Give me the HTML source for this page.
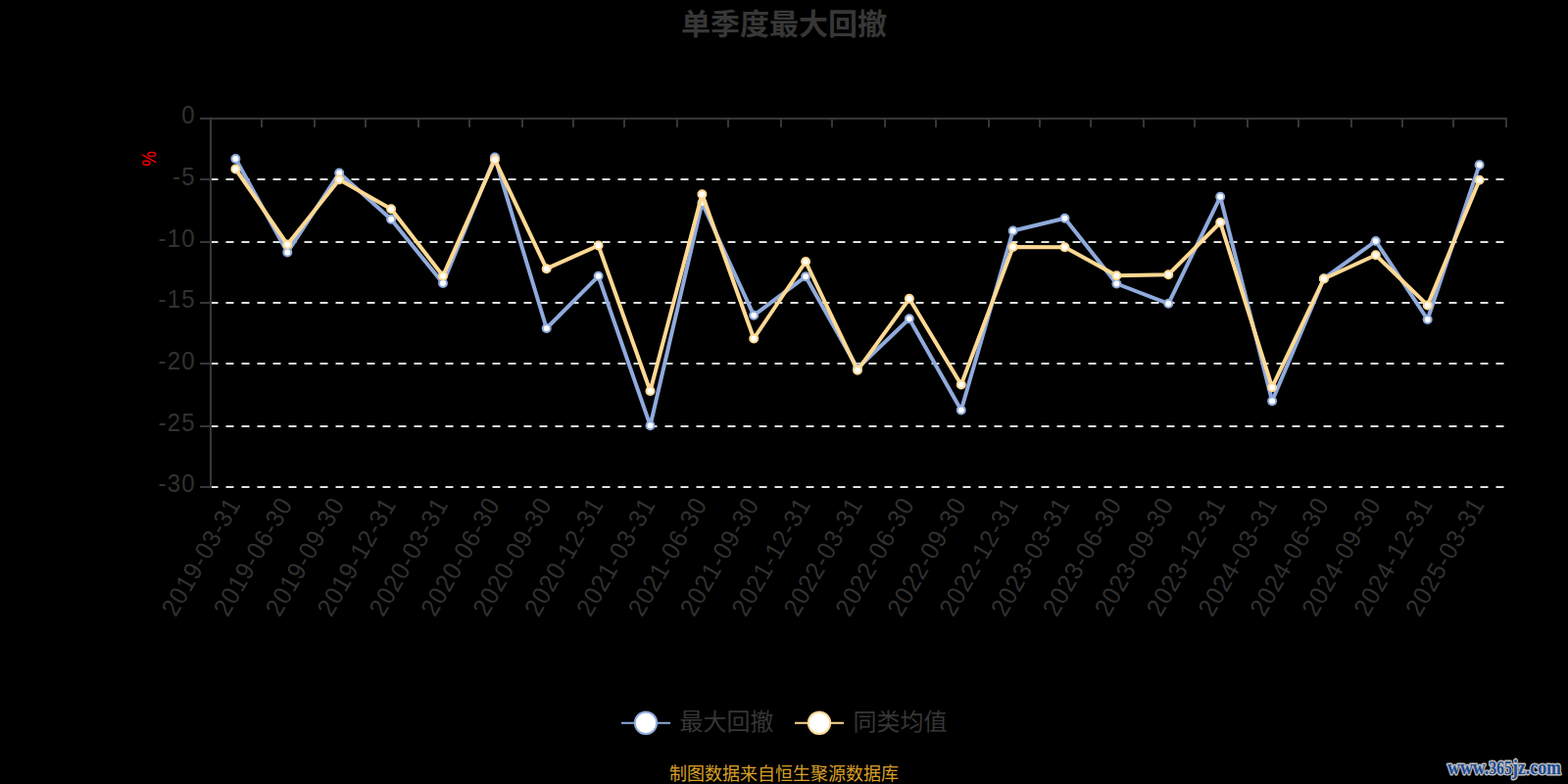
<!DOCTYPE html>
<html lang="zh-CN"><head><meta charset="utf-8"><title>单季度最大回撤</title>
<style>
html,body{margin:0;padding:0;background:#000;}
body{width:1600px;height:800px;overflow:hidden;font-family:"Liberation Sans",sans-serif;}
svg{display:block;}
text{font-family:"Liberation Sans","Noto Sans CJK SC",sans-serif;}
.yl{font-size:24px;fill:#313131;text-anchor:end;letter-spacing:1.2px;}
.xl{font-size:24px;fill:#313131;text-anchor:end;letter-spacing:1.18px;}
.wm{font-family:"Liberation Serif",serif;font-weight:bold;font-size:19px;}
</style></head><body>
<svg width="1600" height="800" viewBox="0 0 1600 800" role="img" aria-label="单季度最大回撤 折线图">
<rect width="1600" height="800" fill="#000"/>
<text x="800" y="34.65" font-size="30" font-weight="bold" fill="#373737" text-anchor="middle">单季度最大回撤</text>
<g stroke="#e0e0e0" stroke-width="2" stroke-dasharray="8 8" fill="none">
<path d="M214.5 183 H1536"/>
<path d="M214.5 247 H1536"/>
<path d="M214.5 309 H1536"/>
<path d="M214.5 371 H1536"/>
<path d="M214.5 435 H1536"/>
<path d="M214.5 497 H1536"/>
</g>
<g stroke="#363636" stroke-width="2" fill="none">
<path d="M215 119.5 V498"/>
<path d="M214 121 H1538"/>
<path d="M204 121 H215"/>
<path d="M204 183 H215"/>
<path d="M204 247 H215"/>
<path d="M204 309 H215"/>
<path d="M204 371 H215"/>
<path d="M204 435 H215"/>
<path d="M204 497 H215"/>
<path d="M267 121 V130"/>
<path d="M321 121 V130"/>
<path d="M373 121 V130"/>
<path d="M427 121 V130"/>
<path d="M479 121 V130"/>
<path d="M533 121 V130"/>
<path d="M585 121 V130"/>
<path d="M637 121 V130"/>
<path d="M691 121 V130"/>
<path d="M743 121 V130"/>
<path d="M797 121 V130"/>
<path d="M849 121 V130"/>
<path d="M903 121 V130"/>
<path d="M955 121 V130"/>
<path d="M1009 121 V130"/>
<path d="M1061 121 V130"/>
<path d="M1113 121 V130"/>
<path d="M1167 121 V130"/>
<path d="M1219 121 V130"/>
<path d="M1273 121 V130"/>
<path d="M1325 121 V130"/>
<path d="M1379 121 V130"/>
<path d="M1431 121 V130"/>
<path d="M1483 121 V130"/>
<path d="M1537 121 V130"/>
</g>
<text class="yl" transform="translate(199.8 126.2) scale(1 1.08)">0</text>
<text class="yl" transform="translate(199.8 188.9) scale(1 1.08)">-5</text>
<text class="yl" transform="translate(199.8 251.5) scale(1 1.08)">-10</text>
<text class="yl" transform="translate(199.8 314.2) scale(1 1.08)">-15</text>
<text class="yl" transform="translate(199.8 376.9) scale(1 1.08)">-20</text>
<text class="yl" transform="translate(199.8 439.5) scale(1 1.08)">-25</text>
<text class="yl" transform="translate(199.8 502.2) scale(1 1.08)">-30</text>
<text x="0" y="0" font-size="19.5" fill="#f00" text-anchor="middle" transform="translate(159.2 162) rotate(-90) scale(0.88 1)">%</text>
<text class="xl" transform="translate(246.6 514.0) rotate(-60) scale(1 1.08)">2019-03-31</text>
<text class="xl" transform="translate(299.5 514.0) rotate(-60) scale(1 1.08)">2019-06-30</text>
<text class="xl" transform="translate(352.4 514.0) rotate(-60) scale(1 1.08)">2019-09-30</text>
<text class="xl" transform="translate(405.3 514.0) rotate(-60) scale(1 1.08)">2019-12-31</text>
<text class="xl" transform="translate(458.2 514.0) rotate(-60) scale(1 1.08)">2020-03-31</text>
<text class="xl" transform="translate(511.1 514.0) rotate(-60) scale(1 1.08)">2020-06-30</text>
<text class="xl" transform="translate(563.9 514.0) rotate(-60) scale(1 1.08)">2020-09-30</text>
<text class="xl" transform="translate(616.8 514.0) rotate(-60) scale(1 1.08)">2020-12-31</text>
<text class="xl" transform="translate(669.7 514.0) rotate(-60) scale(1 1.08)">2021-03-31</text>
<text class="xl" transform="translate(722.6 514.0) rotate(-60) scale(1 1.08)">2021-06-30</text>
<text class="xl" transform="translate(775.5 514.0) rotate(-60) scale(1 1.08)">2021-09-30</text>
<text class="xl" transform="translate(828.3 514.0) rotate(-60) scale(1 1.08)">2021-12-31</text>
<text class="xl" transform="translate(881.2 514.0) rotate(-60) scale(1 1.08)">2022-03-31</text>
<text class="xl" transform="translate(934.1 514.0) rotate(-60) scale(1 1.08)">2022-06-30</text>
<text class="xl" transform="translate(987.0 514.0) rotate(-60) scale(1 1.08)">2022-09-30</text>
<text class="xl" transform="translate(1039.9 514.0) rotate(-60) scale(1 1.08)">2022-12-31</text>
<text class="xl" transform="translate(1092.7 514.0) rotate(-60) scale(1 1.08)">2023-03-31</text>
<text class="xl" transform="translate(1145.6 514.0) rotate(-60) scale(1 1.08)">2023-06-30</text>
<text class="xl" transform="translate(1198.5 514.0) rotate(-60) scale(1 1.08)">2023-09-30</text>
<text class="xl" transform="translate(1251.4 514.0) rotate(-60) scale(1 1.08)">2023-12-31</text>
<text class="xl" transform="translate(1304.3 514.0) rotate(-60) scale(1 1.08)">2024-03-31</text>
<text class="xl" transform="translate(1357.1 514.0) rotate(-60) scale(1 1.08)">2024-06-30</text>
<text class="xl" transform="translate(1410.0 514.0) rotate(-60) scale(1 1.08)">2024-09-30</text>
<text class="xl" transform="translate(1462.9 514.0) rotate(-60) scale(1 1.08)">2024-12-31</text>
<text class="xl" transform="translate(1515.8 514.0) rotate(-60) scale(1 1.08)">2025-03-31</text>
<polyline points="240.4,162.0 293.3,257.5 346.2,176.5 399.1,223.8 452.0,289.0 504.9,160.5 557.7,335.0 610.6,281.8 663.5,434.2 716.4,207.0 769.2,321.8 822.1,282.2 875.0,375.8 927.9,325.2 980.8,418.5 1033.7,235.5 1086.5,222.8 1139.4,289.5 1192.3,309.8 1245.2,200.8 1298.1,409.2 1350.9,284.2 1403.8,246.0 1456.7,326.0 1509.6,168.2" fill="none" stroke="#8faadc" stroke-width="4" stroke-linejoin="bevel"/>
<g fill="#fff" stroke="#8faadc" stroke-width="2">
<circle cx="240.4" cy="162.0" r="4"/>
<circle cx="293.3" cy="257.5" r="4"/>
<circle cx="346.2" cy="176.5" r="4"/>
<circle cx="399.1" cy="223.8" r="4"/>
<circle cx="452.0" cy="289.0" r="4"/>
<circle cx="504.9" cy="160.5" r="4"/>
<circle cx="557.7" cy="335.0" r="4"/>
<circle cx="610.6" cy="281.8" r="4"/>
<circle cx="663.5" cy="434.2" r="4"/>
<circle cx="716.4" cy="207.0" r="4"/>
<circle cx="769.2" cy="321.8" r="4"/>
<circle cx="822.1" cy="282.2" r="4"/>
<circle cx="875.0" cy="375.8" r="4"/>
<circle cx="927.9" cy="325.2" r="4"/>
<circle cx="980.8" cy="418.5" r="4"/>
<circle cx="1033.7" cy="235.5" r="4"/>
<circle cx="1086.5" cy="222.8" r="4"/>
<circle cx="1139.4" cy="289.5" r="4"/>
<circle cx="1192.3" cy="309.8" r="4"/>
<circle cx="1245.2" cy="200.8" r="4"/>
<circle cx="1298.1" cy="409.2" r="4"/>
<circle cx="1350.9" cy="284.2" r="4"/>
<circle cx="1403.8" cy="246.0" r="4"/>
<circle cx="1456.7" cy="326.0" r="4"/>
<circle cx="1509.6" cy="168.2" r="4"/>
</g>
<polyline points="240.4,172.5 293.3,249.5 346.2,183.2 399.1,213.2 452.0,281.5 504.9,163.0 557.7,274.2 610.6,250.5 663.5,399.0 716.4,198.2 769.2,345.5 822.1,267.0 875.0,377.8 927.9,304.8 980.8,392.5 1033.7,252.0 1086.5,252.2 1139.4,281.2 1192.3,280.2 1245.2,227.0 1298.1,395.2 1350.9,284.5 1403.8,260.2 1456.7,311.4 1509.6,183.8" fill="none" stroke="#ffd993" stroke-width="4" stroke-linejoin="bevel"/>
<g fill="#fff" stroke="#ffd993" stroke-width="2">
<circle cx="240.4" cy="172.5" r="4"/>
<circle cx="293.3" cy="249.5" r="4"/>
<circle cx="346.2" cy="183.2" r="4"/>
<circle cx="399.1" cy="213.2" r="4"/>
<circle cx="452.0" cy="281.5" r="4"/>
<circle cx="504.9" cy="163.0" r="4"/>
<circle cx="557.7" cy="274.2" r="4"/>
<circle cx="610.6" cy="250.5" r="4"/>
<circle cx="663.5" cy="399.0" r="4"/>
<circle cx="716.4" cy="198.2" r="4"/>
<circle cx="769.2" cy="345.5" r="4"/>
<circle cx="822.1" cy="267.0" r="4"/>
<circle cx="875.0" cy="377.8" r="4"/>
<circle cx="927.9" cy="304.8" r="4"/>
<circle cx="980.8" cy="392.5" r="4"/>
<circle cx="1033.7" cy="252.0" r="4"/>
<circle cx="1086.5" cy="252.2" r="4"/>
<circle cx="1139.4" cy="281.2" r="4"/>
<circle cx="1192.3" cy="280.2" r="4"/>
<circle cx="1245.2" cy="227.0" r="4"/>
<circle cx="1298.1" cy="395.2" r="4"/>
<circle cx="1350.9" cy="284.5" r="4"/>
<circle cx="1403.8" cy="260.2" r="4"/>
<circle cx="1456.7" cy="311.4" r="4"/>
<circle cx="1509.6" cy="183.8" r="4"/>
</g>
<path d="M634 737.75 H684" stroke="#8faadc" stroke-width="2"/>
<circle cx="659" cy="737.75" r="11.2" fill="#fff" stroke="#8faadc" stroke-width="2"/>
<text x="693.6" y="744.9" font-size="24" fill="#363636">最大回撤</text>
<path d="M811 737.75 H861" stroke="#ffd993" stroke-width="2"/>
<circle cx="836" cy="737.75" r="11.2" fill="#fff" stroke="#ffd993" stroke-width="2"/>
<text x="870.6" y="744.9" font-size="24" fill="#363636">同类均值</text>
<text x="800" y="796.1" font-size="18" fill="#d9a128" text-anchor="middle">制图数据来自恒生聚源数据库</text>
<text class="wm" transform="translate(1477 790.4) scale(1 1.1)" textLength="116" lengthAdjust="spacingAndGlyphs" fill="#1b4a96" stroke="#bdbdbd" stroke-width="2.6" stroke-linejoin="round" paint-order="stroke fill">www.<tspan font-size="16.8">365</tspan>jz.com</text>
</svg></body></html>
